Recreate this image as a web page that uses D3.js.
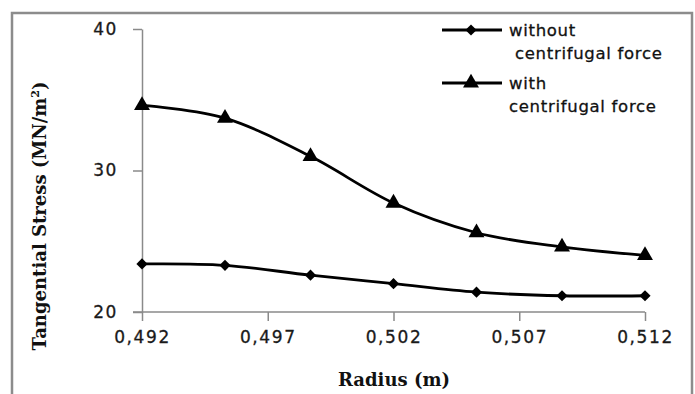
<!DOCTYPE html>
<html>
<head>
<meta charset="utf-8">
<script src="https://cdn.jsdelivr.net/npm/d3@7"></script>
<style>
  body { margin: 0; background: #fff; }
  .tick text { font-family: "DejaVu Sans", sans-serif; font-size: 17px; letter-spacing: 1.6px; fill: #1a1a1a; stroke: #1a1a1a; stroke-width: 0.3px; }
  .axis path, .axis line { stroke: #8a8a8a; stroke-width: 1.5px; }
  .axis-title { font-family: "DejaVu Serif", serif; font-weight: bold; font-size: 18px; fill: #111; }
  .legend text { font-family: "DejaVu Sans", sans-serif; font-size: 16.5px; letter-spacing: 0.7px; fill: #111; stroke: #111; stroke-width: 0.3px; }
</style>
</head>
<body>
<div id="chart"></div>
<script>
// data
var radius = [0.4920, 0.4953, 0.4987, 0.5020, 0.5053, 0.5087, 0.5120];
var without_cf = [23.4, 23.3, 22.6, 22.0, 21.4, 21.15, 21.15];
var with_cf = [34.6, 33.7, 31.0, 27.7, 25.6, 24.6, 24.0];
var x_ticks = [0.492, 0.497, 0.502, 0.507, 0.512];
var x_tick_labels = ["0,492", "0,497", "0,502", "0,507", "0,512"];
var y_ticks = [20, 30, 40];
var series_names = [["without", " centrifugal force"], ["with", "centrifugal force"]];

var W = 695, H = 394;
var margin = {left: 142, right: 50, top: 29, bottom: 82},
    width = W - margin.left - margin.right,
    height = H - margin.top - margin.bottom;

var root = d3.select("#chart").append("svg")
    .attr("width", W)
    .attr("height", H);

// outer frame
root.append("rect")
    .attr("x", 12).attr("y", 13)
    .attr("width", 680).attr("height", 400)
    .attr("fill", "none")
    .attr("stroke", "#8c8c8c")
    .attr("stroke-width", 2.5);

var svg = root.append("g")
    .attr("transform", "translate(" + margin.left + "," + margin.top + ")");

var xScale = d3.scaleLinear().domain([0.492, 0.512]).range([0, width]);
var yScale = d3.scaleLinear().domain([20, 40]).range([height, 0]);

var xAxis = d3.axisBottom(xScale)
    .tickValues(x_ticks)
    .tickSize(9)
    .tickSizeOuter(0)
    .tickPadding(10)
    .tickFormat(function (d, i) { return x_tick_labels[i]; });

var yAxis = d3.axisLeft(yScale)
    .tickValues(y_ticks)
    .tickSize(9)
    .tickSizeOuter(0)
    .tickPadding(15)
    .tickFormat(d3.format("d"));

svg.append("g")
    .attr("class", "axis axis--x")
    .attr("transform", "translate(0," + height + ")")
    .call(xAxis);

svg.append("g")
    .attr("class", "axis axis--y")
    .call(yAxis);

// extend x axis line left to meet the 20 tick
svg.select(".axis--x path").attr("d", "M-9,0H" + width);

// axis titles
root.append("text")
    .attr("class", "axis-title")
    .attr("x", 394)
    .attr("y", 386)
    .attr("text-anchor", "middle")
    .text("Radius (m)");

var ytitle = root.append("text")
    .attr("class", "axis-title")
    .attr("transform", "translate(46,216) rotate(-90)")
    .attr("text-anchor", "middle");
ytitle.append("tspan").text("Tangential Stress (MN/m");
ytitle.append("tspan").attr("font-size", "11px").attr("dy", "-7").text("2");
ytitle.append("tspan").attr("dy", "7").text(")");

var line = d3.line()
    .curve(d3.curveCatmullRom.alpha(0))
    .x(function (d, i) { return xScale(radius[i]); })
    .y(function (d) { return yScale(d); });

var diamond = d3.symbol().type(d3.symbolDiamond2).size(80);
var triangle = d3.symbol().type(d3.symbolTriangle).size(110);

function drawSeries(values, sym) {
    svg.append("path")
        .datum(values)
        .attr("d", line)
        .attr("fill", "none")
        .attr("stroke", "#000")
        .attr("stroke-width", 2.8);
    svg.append("g").selectAll("path")
        .data(values)
        .enter().append("path")
        .attr("d", sym)
        .attr("fill", "#000")
        .attr("transform", function (d, i) {
            return "translate(" + xScale(radius[i]) + "," + yScale(d) + ")";
        });
}

drawSeries(without_cf, diamond);
drawSeries(with_cf, triangle);

// legend
var legend = root.append("g").attr("class", "legend");
var legend_rows = [{y: 30, sym: diamond}, {y: 83, sym: triangle}];
legend_rows.forEach(function (r, i) {
    legend.append("line")
        .attr("x1", 442).attr("x2", 502)
        .attr("y1", r.y).attr("y2", r.y)
        .attr("stroke", "#000").attr("stroke-width", 2.8);
    legend.append("path")
        .attr("d", r.sym)
        .attr("fill", "#000")
        .attr("transform", "translate(471," + r.y + ")");
    legend.append("text")
        .attr("x", 509).attr("y", r.y)
        .attr("dy", "0.35em")
        .text(series_names[i][0]);
    legend.append("text")
        .attr("x", 509).attr("y", r.y + 23)
        .attr("dy", "0.35em")
        .style("white-space", "pre")
        .text(series_names[i][1]);
});
</script>
</body>
</html>
